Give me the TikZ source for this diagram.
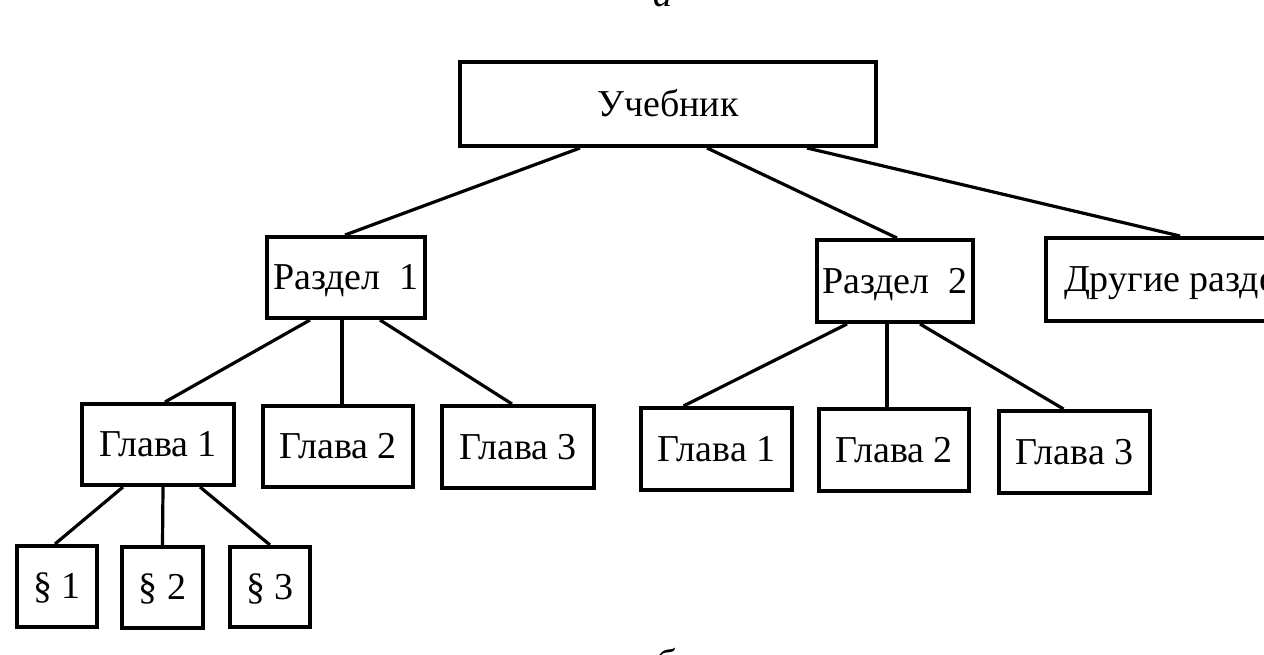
\documentclass[tikz,border=0pt]{standalone}
\usepackage{fontspec}
\setmainfont{Liberation Serif}
\begin{document}
\begin{tikzpicture}[x=0.5pt,y=-0.5pt,
  box/.style={draw,line width=2pt,inner sep=0pt,text height=12pt,text depth=0pt,font=\fontsize{19}{23}\selectfont},
  link/.style={line width=1.6pt}]
\useasboundingbox (0,0) rectangle (1264,654);
\clip (0,0) rectangle (1264,654);
\fill[white] (0,0) rectangle (1264,654);
% letters
\node[anchor=base,inner sep=0pt,font=\fontsize{19}{23}\selectfont\itshape] (la) at (663,6) {а};
\node[anchor=north,inner sep=0pt,font=\fontsize{19}{23}\selectfont\itshape] (lb) at (665,648) {б};
% nodes
\node[box,minimum width=208pt,minimum height=42pt] (u) at (668,104) {Учебник};
\node[box,minimum width=79pt,minimum height=40.5pt] (r1) at (346,277.5) {Раздел\ \ 1};
\node[box,minimum width=78pt,minimum height=41pt] (r2) at (895,281) {Раздел\ \ 2};
\node[box,anchor=west,inner xsep=9pt,minimum height=41.5pt] (d) at (1044,279.5) {Другие разделы};
\node[box,minimum width=76pt,minimum height=40.5pt] (g11) at (158,444.5) {Глава 1};
\node[box,minimum width=75pt,minimum height=40.5pt] (g12) at (338,446.5) {Глава 2};
\node[box,minimum width=76pt,minimum height=41pt] (g13) at (518,447) {Глава 3};
\node[box,minimum width=75.5pt,minimum height=41pt] (g21) at (716.5,449) {Глава 1};
\node[box,minimum width=75pt,minimum height=41pt] (g22) at (894,450) {Глава 2};
\node[box,minimum width=75.5pt,minimum height=41pt] (g23) at (1074.5,452) {Глава 3};
\node[box,minimum width=40pt,minimum height=40.5pt] (p1) at (57,586.5) {§ 1};
\node[box,minimum width=40.5pt,minimum height=40.5pt] (p2) at (162.5,587.5) {§ 2};
\node[box,minimum width=40pt,minimum height=40pt] (p3) at (270,587) {§ 3};
% connectors (xshift in pt = px/2)
\draw[link] ([xshift=-44pt]u.south) -- ([xshift=-0.5pt]r1.north);
\draw[link] ([xshift=19.5pt]u.south) -- ([xshift=1pt]r2.north);
\draw[link] ([xshift=69.5pt]u.south) -- ([xshift=68pt]d.north west);
\draw[link] ([xshift=-18pt]r1.south) -- ([xshift=3.5pt]g11.north);
\draw[link] ([xshift=-2pt]r1.south) -- ([xshift=2pt]g12.north);
\draw[link] ([xshift=17pt]r1.south) -- ([xshift=-3pt]g13.north);
\draw[link] ([xshift=-24pt]r2.south) -- ([xshift=-16.5pt]g21.north);
\draw[link] ([xshift=-4pt]r2.south) -- ([xshift=-3.5pt]g22.north);
\draw[link] ([xshift=12.5pt]r2.south) -- ([xshift=-5.5pt]g23.north);
\draw[link] ([xshift=-17.5pt]g11.south) -- ([xshift=-1pt]p1.north);
\draw[link] ([xshift=2.5pt]g11.south) -- ([xshift=0pt]p2.north);
\draw[link] ([xshift=21pt]g11.south) -- ([xshift=0pt]p3.north);
\end{tikzpicture}
\end{document}
